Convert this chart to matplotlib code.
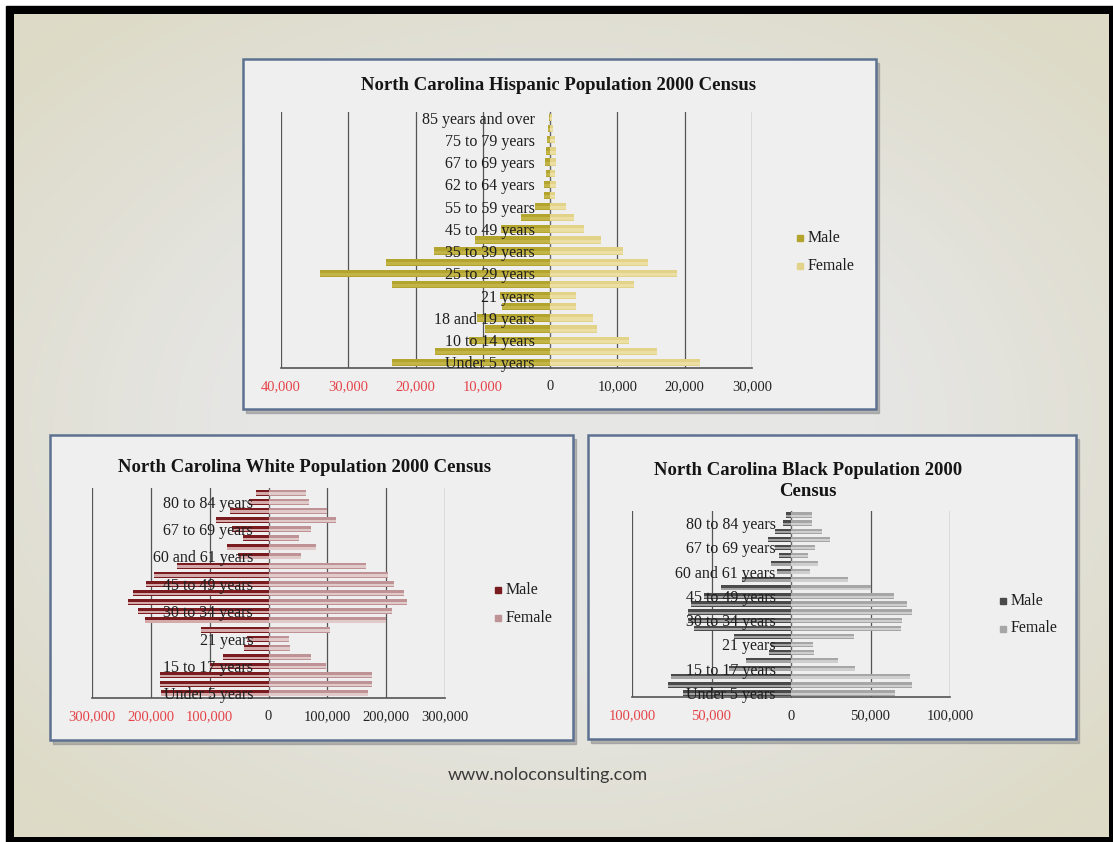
import numpy as np
import matplotlib
matplotlib.use("Agg")
import matplotlib.pyplot as plt
from matplotlib.patches import Rectangle

# ---------------- data ----------------
categories = ["Under 5 years", "5 to 9 years", "10 to 14 years", "15 to 17 years",
              "18 and 19 years", "20 years", "21 years", "22 to 24 years",
              "25 to 29 years", "30 to 34 years", "35 to 39 years", "40 to 44 years",
              "45 to 49 years", "50 to 54 years", "55 to 59 years", "60 and 61 years",
              "62 to 64 years", "65 and 66 years", "67 to 69 years", "70 to 74 years",
              "75 to 79 years", "80 to 84 years", "85 years and over"]

hisp_male = [23500, 17100, 12000, 9700, 10900, 7200, 7500, 23500, 34200, 24400, 17300, 11200,
             7300, 4400, 2300, 900, 900, 600, 700, 600, 500, 300, 200]
hisp_female = [22300, 15900, 11700, 6900, 6400, 3800, 3800, 12500, 18900, 14600, 10800, 7600,
               5000, 3500, 2300, 700, 900, 700, 900, 800, 700, 400, 300]

white_male = [182000, 185000, 185000, 100000, 77000, 41000, 36000, 115000, 210000, 222000,
              239000, 231000, 208000, 195000, 156000, 52000, 71000, 44000, 62000, 90000,
              65000, 33000, 21000]
white_female = [169000, 176000, 176000, 98000, 73000, 37000, 34000, 105000, 200000, 210000,
                235000, 231000, 213000, 203000, 165000, 55000, 81000, 51000, 73000, 115000,
                99000, 68000, 64000]

black_male = [68000, 77500, 75400, 39000, 28000, 13700, 12500, 36000, 61000, 64800, 65000,
              62700, 55000, 43800, 30700, 9000, 12600, 7400, 10000, 14300, 10000, 4800, 3200]
black_female = [65700, 75800, 74700, 40400, 29500, 14700, 14000, 39800, 69000, 70000, 75800,
                73000, 64600, 50500, 35800, 12000, 16800, 11000, 15200, 24600, 19400, 13000, 13000]

hisp_ticks = [-40000, -30000, -20000, -10000, 0, 10000, 20000, 30000]
white_ticks = [-300000, -200000, -100000, 0, 100000, 200000, 300000]
black_ticks = [-100000, -50000, 0, 50000, 100000]

titles = ["North Carolina Hispanic Population 2000 Census",
          "North Carolina White Population 2000 Census",
          "North Carolina Black Population 2000\nCensus"]
series_names = ["Male", "Female"]
footer = "www.noloconsulting.com"

# ---------------- figure ----------------
SERIF = ["Liberation Serif", "DejaVu Serif"]
plt.rcParams["font.family"] = SERIF

W, H = 1113, 842
fig = plt.figure(figsize=(W / 100, H / 100), dpi=100)


def rect_fig(x0, y0, x1, y1):
    return [x0 / W, 1 - y1 / H, (x1 - x0) / W, (y1 - y0) / H]


bg = fig.add_axes([0, 0, 1, 1])
bg.set_xlim(0, W)
bg.set_ylim(H, 0)
bg.axis("off")
bg.add_patch(Rectangle((0, 0), W, H, color="white", zorder=0))
bg.add_patch(Rectangle((6, 6), W - 6, H - 6, color="black", zorder=1))

# slide background: light grey centre, beige edges
ny, nx = 200, 260
yy, xx = np.mgrid[-1:1:ny * 1j, -1:1:nx * 1j]
d = np.sqrt((xx * 0.95) ** 2 + (yy * 1.0) ** 2)
t = np.clip((d - 0.55) / 0.75, 0, 1)[..., None]
centre = np.array([230, 230, 229]) / 255
edge = np.array([221, 218, 198]) / 255
img = centre * (1 - t) + edge * t
bg.imshow(img, extent=(14, 1109, 837, 14), aspect="auto", zorder=2, interpolation="bilinear")
bg.set_xlim(0, W)
bg.set_ylim(H, 0)

panels = [(243, 59, 876, 409), (50, 435, 573, 740), (588, 435, 1076, 739)]
for (x0, y0, x1, y1) in panels:
    bg.add_patch(Rectangle((x0 + 3, y0 + 4), x1 - x0, y1 - y0, color="#8a8a8a", alpha=0.55, zorder=3))
    bg.add_patch(Rectangle((x0, y0), x1 - x0, y1 - y0, facecolor="#efefef",
                           edgecolor="#5d7190", lw=1.8, zorder=4))

bg.text(548, 775, footer, fontsize=13, color="#3a3a3a", ha="center", va="center",
        family=["Lato", "DejaVu Sans"], zorder=5)


def pyramid(rect_px, male, female, ticks, label_every, title, title_xy,
            colors, legend_xy):
    ax = fig.add_axes(rect_fig(*rect_px))
    ax.set_facecolor("none")
    y = np.arange(len(categories))
    m = -np.asarray(male, dtype=float)
    f = np.asarray(female, dtype=float)
    (m_dark, m_light), (f_dark, f_light) = colors
    ax.barh(y, m, height=0.66, color=m_dark, zorder=1)
    ax.barh(y - 0.1, m, height=0.28, color=m_light, zorder=1.1)
    ax.barh(y, f, height=0.66, color=f_dark, zorder=1)
    ax.barh(y - 0.1, f, height=0.28, color=f_light, zorder=1.1)
    ax.set_xlim(ticks[0], ticks[-1])
    ax.set_ylim(-0.5, len(categories) - 0.5)
    ax.set_xticks(ticks)
    ax.set_xticklabels([f"{abs(v):,}" for v in ticks])
    for lbl, v in zip(ax.get_xticklabels(), ticks):
        lbl.set_color("#e4444a" if v < 0 else "#222222")
    ax.tick_params(axis="x", length=0, pad=9, labelsize=10.5)
    ax.xaxis.grid(True, color="#555555", lw=0.9)
    ax.set_yticks(y[::label_every])
    ax.set_yticklabels(categories[::label_every])
    ax.tick_params(axis="y", length=0, pad=11, labelsize=11.5, labelcolor="#1e1e1e")
    ax.xaxis.set_zorder(0.5)
    ax.yaxis.set_zorder(5)
    for s in ("top", "right"):
        ax.spines[s].set_visible(False)
    ax.spines["left"].set_position(("data", 0))
    ax.spines["left"].set_color("#666666")
    ax.spines["left"].set_zorder(0.6)
    ax.spines["bottom"].set_color("#555555")
    ax.spines["bottom"].set_linewidth(1.2)

    bg.text(title_xy[0], title_xy[1], title, fontsize=13.5, fontweight="bold",
            ha="center", va="center", color="#151515", zorder=6, linespacing=1.25)
    lx, ly = legend_xy
    for i, (name, col) in enumerate(zip(series_names, (m_dark, f_dark))):
        yy_ = ly + i * 27.5
        bg.add_patch(Rectangle((lx - 3, yy_ - 3), 6, 6, color=col, zorder=6))
        bg.text(lx + 8, yy_, name, fontsize=11.5, va="center",
                ha="left", color="#1e1e1e", zorder=6)
    return ax


pyramid((281, 112, 752, 368), hisp_male, hisp_female, hisp_ticks, 2, titles[0], (559, 85),
        (("#b3a42e", "#c2b446"), ("#e3d389", "#ebdfa4")), (800, 238))
pyramid((92, 488, 445, 698), white_male, white_female, white_ticks, 3, titles[1], (305, 468),
        (("#7a1c1f", "#d3a9aa"), ("#bf9396", "#e0caca")), (498, 590))
pyramid((632, 511, 950, 697), black_male, black_female, black_ticks, 3, titles[2], (808, 481),
        (("#4a4a4a", "#a2a2a2"), ("#a6a6a6", "#cfcfcf")), (1003, 601))

fig.savefig("out.png", dpi=100)
